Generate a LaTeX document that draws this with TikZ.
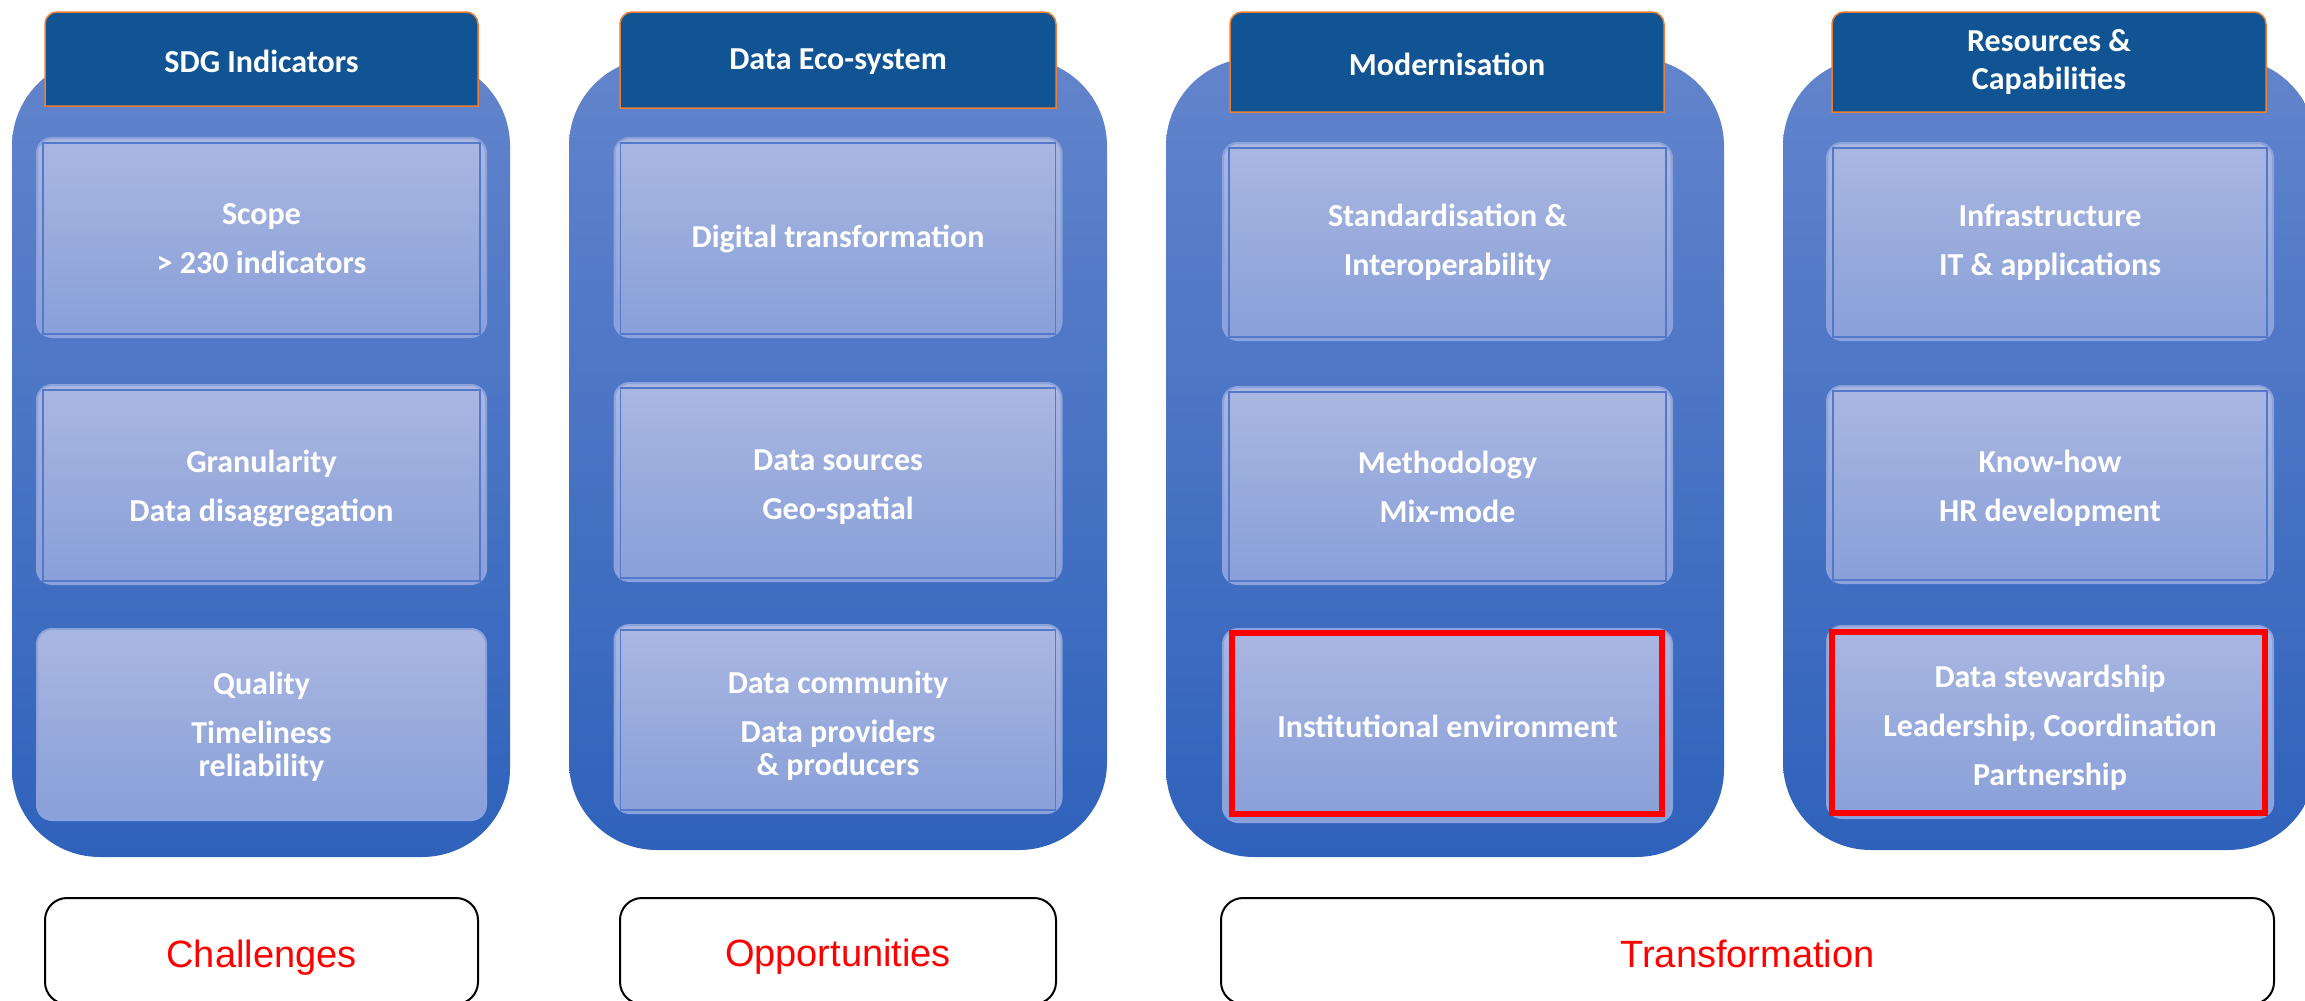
\documentclass[tikz,border=0pt]{standalone}
\usepackage{fontspec}
\newfontfamily\carl{Carlito}
\newfontfamily\arial{Liberation Sans}
\definecolor{cTop}{RGB}{98,132,204}
\definecolor{cMid}{RGB}{70,117,200}
\definecolor{cBot}{RGB}{47,98,187}
\definecolor{hBlue}{RGB}{17,84,148}
\definecolor{hOrange}{RGB}{237,125,49}
\definecolor{bTop}{RGB}{170,183,225}
\definecolor{bBot}{RGB}{136,159,216}
\definecolor{bEdge}{RGB}{140,162,220}
\definecolor{iLine}{RGB}{84,120,202}
\tikzset{
  col/.style={rounded corners=88pt, top color=cTop, middle color=cMid, bottom color=cBot, draw=none, inner sep=0pt, outer sep=0pt},
  hdr/.style={fill=hBlue, draw=hOrange, line width=1.5pt},
  hdrtext/.style={text=white, font=\carl\bfseries\fontsize{32}{38}\selectfont, align=center, inner sep=0pt},
  cell/.style={rounded corners=15pt, top color=bTop, bottom color=bBot, draw=bEdge, line width=2pt, inner sep=0pt},
  celltext/.style={text=white, font=\carl\bfseries\fontsize{32}{33}\selectfont, align=center, inner sep=0pt},
  innerrect/.style={draw=iLine, line width=1.5pt},
  hilite/.style={draw=red, line width=6pt},
  lbl/.style={draw=black, line width=2pt, rounded corners=22pt, fill=white, inner sep=0pt},
  lbltext/.style={text=red, font=\arial\fontsize{38}{44}\selectfont, inner sep=0pt},
}
\begin{document}
\begin{tikzpicture}[x=1pt,y=-1pt]
\path[use as bounding box] (0,0) rectangle (2305,1001);
\fill[white] (0,0) rectangle (2305,1001);
\clip (0,0) rectangle (2305,1001);
% columns
\node[col, minimum width=498pt, minimum height=799pt] (c1) at (261,457.5) {};
\node[col, minimum width=538pt, minimum height=792pt] (c2) at (838,454) {};
\node[col, minimum width=558pt, minimum height=799pt] (c3) at (1445,457.5) {};
\node[col, minimum width=533pt, minimum height=792pt] (c4) at (2049.5,454) {};
% headers
\draw[hdr] (45,106) [rounded corners=12pt] -- (45,12) -- (478,12) [sharp corners] -- (478,106) -- cycle;
\draw[hdr] (620,108) [rounded corners=12pt] -- (620,12) -- (1056,12) [sharp corners] -- (1056,108) -- cycle;
\draw[hdr] (1230,112) [rounded corners=12pt] -- (1230,12) -- (1664,12) [sharp corners] -- (1664,112) -- cycle;
\draw[hdr] (1832,112) [rounded corners=12pt] -- (1832,12) -- (2266,12) [sharp corners] -- (2266,112) -- cycle;
\node[hdrtext] (h1) at (261.5,61) {SDG Indicators};
\node[hdrtext] (h2) at (838,62) {Data Eco-system};
\node[hdrtext] (h3) at (1447,64) {Modernisation};
\node[hdrtext] (h4) at (2049,62) {Resources \&\\Capabilities};
% cells
\node[cell, minimum width=449pt, minimum height=199pt] (b11) at (261.5,237.5) {};
\node[cell, minimum width=449pt, minimum height=199pt] (b12) at (261.5,484.5) {};
\node[cell, minimum width=449pt, minimum height=191pt] (b13) at (261.5,724.5) {};
\node[cell, minimum width=447pt, minimum height=199pt] (b21) at (838,237.5) {};
\node[cell, minimum width=447pt, minimum height=198pt] (b22) at (838,482) {};
\node[cell, minimum width=447pt, minimum height=188pt] (b23) at (838,719) {};
\node[cell, minimum width=449pt, minimum height=197pt] (b31) at (1447.5,241.5) {};
\node[cell, minimum width=449pt, minimum height=197pt] (b32) at (1447.5,485.5) {};
\node[cell, minimum width=449pt, minimum height=193pt] (b33) at (1447.5,725.5) {};
\node[cell, minimum width=446pt, minimum height=197pt] (b41) at (2050,241.5) {};
\node[cell, minimum width=446pt, minimum height=197pt] (b42) at (2050,484.5) {};
\node[cell, minimum width=446pt, minimum height=192pt] (b43) at (2050,722) {};
% inner rectangles
\foreach \b in {b11,b12,b21,b22,b23,b31,b32,b41,b42}{
  \draw[innerrect] ([xshift=7pt,yshift=-6pt]\b.north west) rectangle ([xshift=-7pt,yshift=4pt]\b.south east);
}
% highlighted boxes
\draw[hilite] ([xshift=10pt,yshift=-5pt]b33.north west) rectangle ([xshift=-11pt,yshift=9pt]b33.south east);
\draw[hilite] ([xshift=6pt,yshift=-7pt]b43.north west) rectangle ([xshift=-9pt,yshift=6pt]b43.south east);
% cell texts
\node[celltext, yshift=-1pt] (x11) at (b11) {Scope\\[16pt]> 230 indicators};
\node[celltext, yshift=-4pt] (x12) at (b12) {Granularity\\[16pt]Data disaggregation};
\node[celltext, yshift=-2pt] (x13) at (b13) {Quality\\[16pt]Timeliness\\reliability};
\node[celltext, yshift=-1pt] (x21) at (b21) {Digital transformation};
\node[celltext, yshift=-5pt] (x22) at (b22) {Data sources\\[16pt]Geo-spatial};
\node[celltext, yshift=-7pt] (x23) at (b23) {Data community\\[16pt]Data providers\\\& producers};
\node[celltext, yshift=-1pt] (x31) at (b31) {Standardisation \&\\[16pt]Interoperability};
\node[celltext, yshift=-1pt] (x32) at (b32) {Methodology\\[16pt]Mix-mode};
\node[celltext, yshift=-1pt] (x33) at (b33) {Institutional environment};
\node[celltext, yshift=-1pt] (x41) at (b41) {Infrastructure\\[16pt]IT \& applications};
\node[celltext, yshift=-4pt] (x42) at (b42) {Know-how\\[16pt]HR development};
\node[celltext, yshift=-6pt] (x43) at (b43) {Data stewardship\\[16pt]Leadership, Coordination\\[16pt]Partnership};
% bottom labels
\node[lbl, minimum width=433pt, minimum height=106pt] (L1) at (261.5,951) {};
\node[lbl, minimum width=436pt, minimum height=106pt] (L2) at (838,951) {};
\node[lbl, minimum width=1053pt, minimum height=106pt] (L3) at (1747.5,951) {};
\node[lbltext, anchor=base] (t1) at (261.5,967) {Challenges};
\node[lbltext, anchor=base] (t2) at (838,966) {Opportunities};
\node[lbltext, anchor=base] (t3) at (1747.5,967) {Transformation};
\end{tikzpicture}
\end{document}
